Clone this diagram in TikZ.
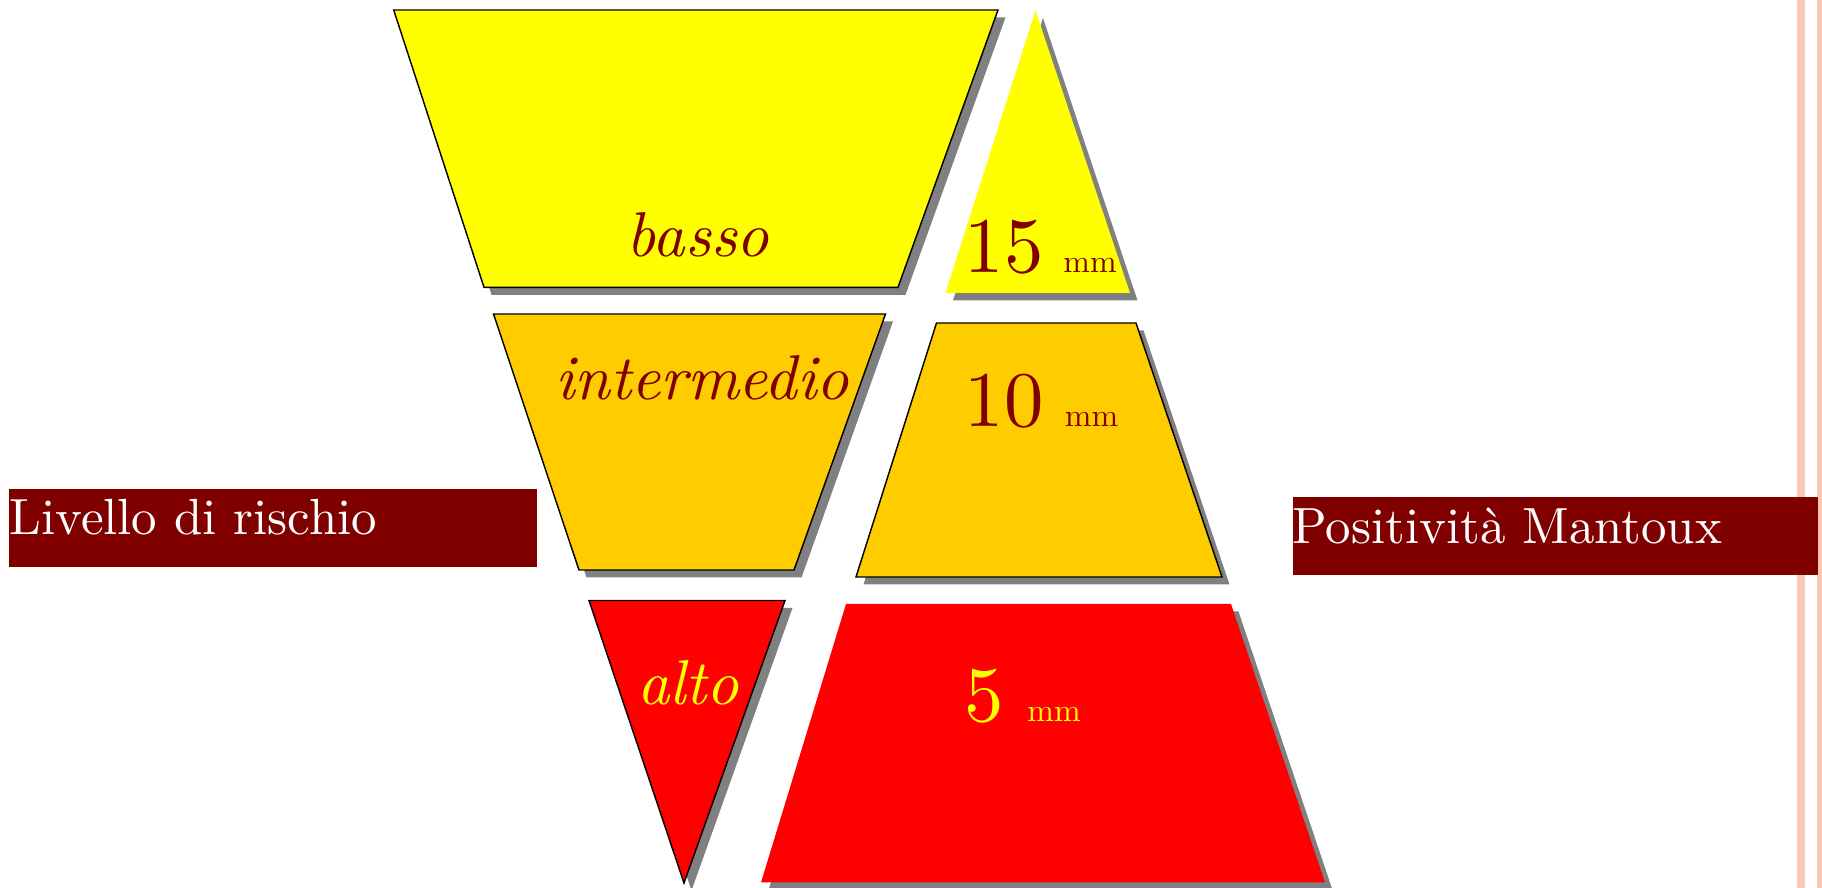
\documentclass[tikz,border=0pt]{standalone}
\definecolor{maroonc}{RGB}{128,0,0}
\definecolor{amber}{RGB}{255,204,0}
\definecolor{ylw}{RGB}{255,255,0}
\definecolor{redc}{RGB}{255,0,0}
\definecolor{rulec}{RGB}{253,199,181}
\newcommand{\itlbl}[1]{\scalebox{1.98}{\itshape #1}}
\newcommand{\numlbl}[1]{\scalebox{2.46}{#1}}
\newcommand{\ttllbl}[1]{\scalebox{1.59}{#1}}
\begin{document}
\begin{tikzpicture}[x=0.3125pt,y=-0.3125pt,
  shadowfill/.style={fill=gray},
  outl/.style={draw=black,line width=0.45pt,line join=miter},
  lvl/.style={font=\fontsize{10}{12}\selectfont,inner sep=0pt,anchor=base},
  bignum/.style={font=\fontsize{10}{12}\selectfont,inner sep=0pt,anchor=base},
  unitlbl/.style={font=\fontsize{10}{12}\selectfont,inner sep=0pt,anchor=base},
  titlelbl/.style={font=\fontsize{10}{12}\selectfont,text=white,inner sep=0pt,anchor=base west}]
\useasboundingbox (0,0) rectangle (1822,888);
% vertical rules
\fill[rulec] (1797,0) rectangle (1805,888);
\fill[rulec] (1817,0) rectangle (1822,888);
% shadows
\begin{scope}[shift={(7.5,7.5)}]
\fill[shadowfill] (393.7,10) -- (998,10) -- (898,287.3) -- (484,287.3) -- cycle;
\fill[shadowfill] (1035.5,10.5) -- (1130,293) -- (945.5,293) -- cycle;
\fill[shadowfill] (493.5,314) -- (885.5,314) -- (794,570) -- (579,570) -- cycle;
\fill[shadowfill] (936.5,323) -- (1136,323) -- (1222,577) -- (856,577) -- cycle;
\fill[shadowfill] (589,600.5) -- (785,600.5) -- (684,883) -- cycle;
\fill[shadowfill] (846,604) -- (1231,604) -- (1325,882.5) -- (761,882.5) -- cycle;
\end{scope}
% shapes
\filldraw[fill=ylw,outl] (393.7,10) -- (998,10) -- (898,287.3) -- (484,287.3) -- cycle;
\fill[ylw] (1035.5,10.5) -- (1130,293) -- (945.5,293) -- cycle;
\filldraw[fill=amber,outl] (493.5,314) -- (885.5,314) -- (794,570) -- (579,570) -- cycle;
\filldraw[fill=amber,outl] (936.5,323) -- (1136,323) -- (1222,577) -- (856,577) -- cycle;
\filldraw[fill=redc,outl] (589,600.5) -- (785,600.5) -- (684,883) -- cycle;
\fill[redc] (846,604) -- (1231,604) -- (1325,882.5) -- (761,882.5) -- cycle;
% labels
\node[lvl,text=maroonc] (basso) at (698,256.7) {\itlbl{basso}};
\node[lvl,text=maroonc] (interm) at (702,400) {\itlbl{intermedio}};
\node[lvl,text=ylw] (alto) at (688,705) {\itlbl{alto}};
\node[bignum,text=maroonc] (n15) at (1004,273) {\numlbl{15}};
\node[unitlbl,text=maroonc] (u15) at (1090,273) {mm};
\node[bignum,text=maroonc] (n10) at (1004,426.7) {\numlbl{10}};
\node[unitlbl,text=maroonc] (u10) at (1091.5,426.7) {mm};
\node[bignum,text=ylw] (n5) at (984,721.7) {\numlbl{5}};
\node[unitlbl,text=ylw] (u5) at (1054,721.7) {mm};
% title boxes
\fill[maroonc] (9,489) rectangle (537,567);
\node[titlelbl] (rischio) at (9,535) {\ttllbl{Livello di rischio}};
\fill[maroonc] (1293,497.5) rectangle (1818,575.5);
\node[titlelbl] (mantoux) at (1292,543.3) {\ttllbl{Positività Mantoux}};
\end{tikzpicture}
\end{document}
